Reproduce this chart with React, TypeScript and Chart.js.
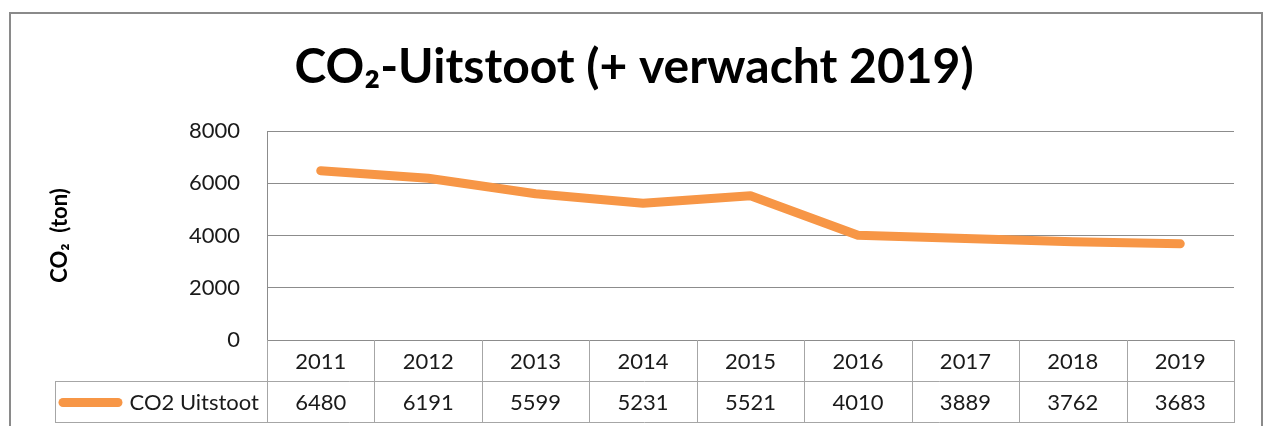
import React, { useEffect, useRef } from "react";
import { Chart, registerables } from "chart.js";

Chart.register(...registerables);

const years = ["2011", "2012", "2013", "2014", "2015", "2016", "2017", "2018", "2019"];
const co2Values = [6480, 6191, 5599, 5231, 5521, 4010, 3889, 3762, 3683];
const seriesLabel = "CO2 Uitstoot";
const titleText = "CO₂-Uitstoot (+ verwacht 2019)";
const yAxisTitle = "CO₂  (ton)";
const yMin = 0;
const yMax = 8000;
const yStep = 2000;

const ORANGE = "#F79646";
const GRID = "#8c8c8c";
const TABLE_LINE = "#a6a6a6";
const TEXT = "#1a1a1a";
const FONT = "Lato, 'Open Sans', sans-serif";

const tablePlugin = {
  id: "dataTable",
  beforeDraw(chart: any) {
    const ctx = chart.ctx;
    ctx.save();
    ctx.fillStyle = "#ffffff";
    ctx.fillRect(0, 0, chart.width, chart.height);
    ctx.strokeStyle = "#8a8a8a";
    ctx.lineWidth = 2;
    ctx.strokeRect(10, 13, 1252, 440);
    ctx.restore();
  },
  afterDraw(chart: any) {
    const ctx = chart.ctx;
    const area = chart.chartArea;
    const xs = chart.scales.x;
    const n = years.length;
    const rowTop = area.bottom;
    const rowMid = area.bottom + 41;
    const rowBot = area.bottom + 82;
    const legendLeft = 55;

    const bounds: number[] = [area.left];
    for (let i = 0; i < n - 1; i++) {
      bounds.push((xs.getPixelForValue(i) + xs.getPixelForValue(i + 1)) / 2);
    }
    bounds.push(area.right);

    ctx.save();
    ctx.strokeStyle = TABLE_LINE;
    ctx.lineWidth = 1;
    ctx.beginPath();
    ctx.moveTo(legendLeft, Math.round(rowMid) + 0.5);
    ctx.lineTo(area.right, Math.round(rowMid) + 0.5);
    ctx.moveTo(legendLeft, Math.round(rowBot) + 0.5);
    ctx.lineTo(area.right, Math.round(rowBot) + 0.5);
    ctx.moveTo(legendLeft + 0.5, Math.round(rowMid));
    ctx.lineTo(legendLeft + 0.5, Math.round(rowBot) + 1);
    bounds.forEach((b) => {
      const bx = Math.round(b) + 0.5;
      ctx.moveTo(bx, rowTop);
      ctx.lineTo(bx, Math.round(rowBot) + 1);
    });
    ctx.stroke();

    ctx.fillStyle = TEXT;
    ctx.font = `22px ${FONT}`;
    ctx.textAlign = "center";
    ctx.textBaseline = "middle";
    for (let i = 0; i < n; i++) {
      const cx = xs.getPixelForValue(i);
      ctx.fillText(years[i], cx, (rowTop + rowMid) / 2 + 1);
      ctx.fillText(String(co2Values[i]), cx, (rowMid + rowBot) / 2 + 1);
    }

    const ly = (rowMid + rowBot) / 2 + 1;
    ctx.strokeStyle = ORANGE;
    ctx.lineWidth = 9;
    ctx.lineCap = "round";
    ctx.beginPath();
    ctx.moveTo(63, ly);
    ctx.lineTo(118, ly);
    ctx.stroke();
    ctx.textAlign = "right";
    ctx.fillText(chart.data.datasets[0].label, area.left - 8, ly);
    ctx.restore();
  },
};

export default function App() {
  const canvasRef = useRef<HTMLCanvasElement | null>(null);

  useEffect(() => {
    if (!canvasRef.current) return;
    const chart = new Chart(canvasRef.current, {
      type: "line",
      data: {
        labels: years,
        datasets: [
          {
            label: seriesLabel,
            data: co2Values,
            borderColor: ORANGE,
            backgroundColor: ORANGE,
            borderWidth: 9,
            borderCapStyle: "round",
            borderJoinStyle: "round",
            pointRadius: 0,
            tension: 0,
            fill: false,
          },
        ],
      },
      options: {
        responsive: false,
        animation: false,
        devicePixelRatio: 1,
        layout: { padding: { left: 34, right: 32, top: 0, bottom: 86 } },
        plugins: {
          legend: { display: false },
          tooltip: { enabled: false },
          title: {
            display: true,
            text: titleText,
            color: "#000",
            font: { family: FONT, size: 48, weight: "bold" },
            padding: { top: 39, bottom: 34.4 },
          },
        },
        scales: {
          x: {
            type: "category",
            offset: true,
            display: false,
          },
          y: {
            min: yMin,
            max: yMax,
            ticks: {
              stepSize: yStep,
              color: TEXT,
              padding: 27,
              font: { family: FONT, size: 22 },
              callback: (v: any) => String(v),
            },
            grid: { color: GRID, drawTicks: false, lineWidth: 1 },
            border: { display: true, color: GRID },
            title: {
              display: true,
              text: yAxisTitle,
              color: "#000",
              font: { family: FONT, size: 22, weight: "bold" },
              padding: { top: 12.5, bottom: 0 },
            },
            afterFit(scale: any) {
              scale.width = 233;
            },
          },
        },
      },
      plugins: [tablePlugin],
    });
    return () => chart.destroy();
  }, []);

  return (
    <div style={{ position: "fixed", left: 0, top: 0, width: 1266, height: 426, background: "#fff" }}>
      <canvas ref={canvasRef} width={1266} height={426} style={{ display: "block" }} />
    </div>
  );
}
